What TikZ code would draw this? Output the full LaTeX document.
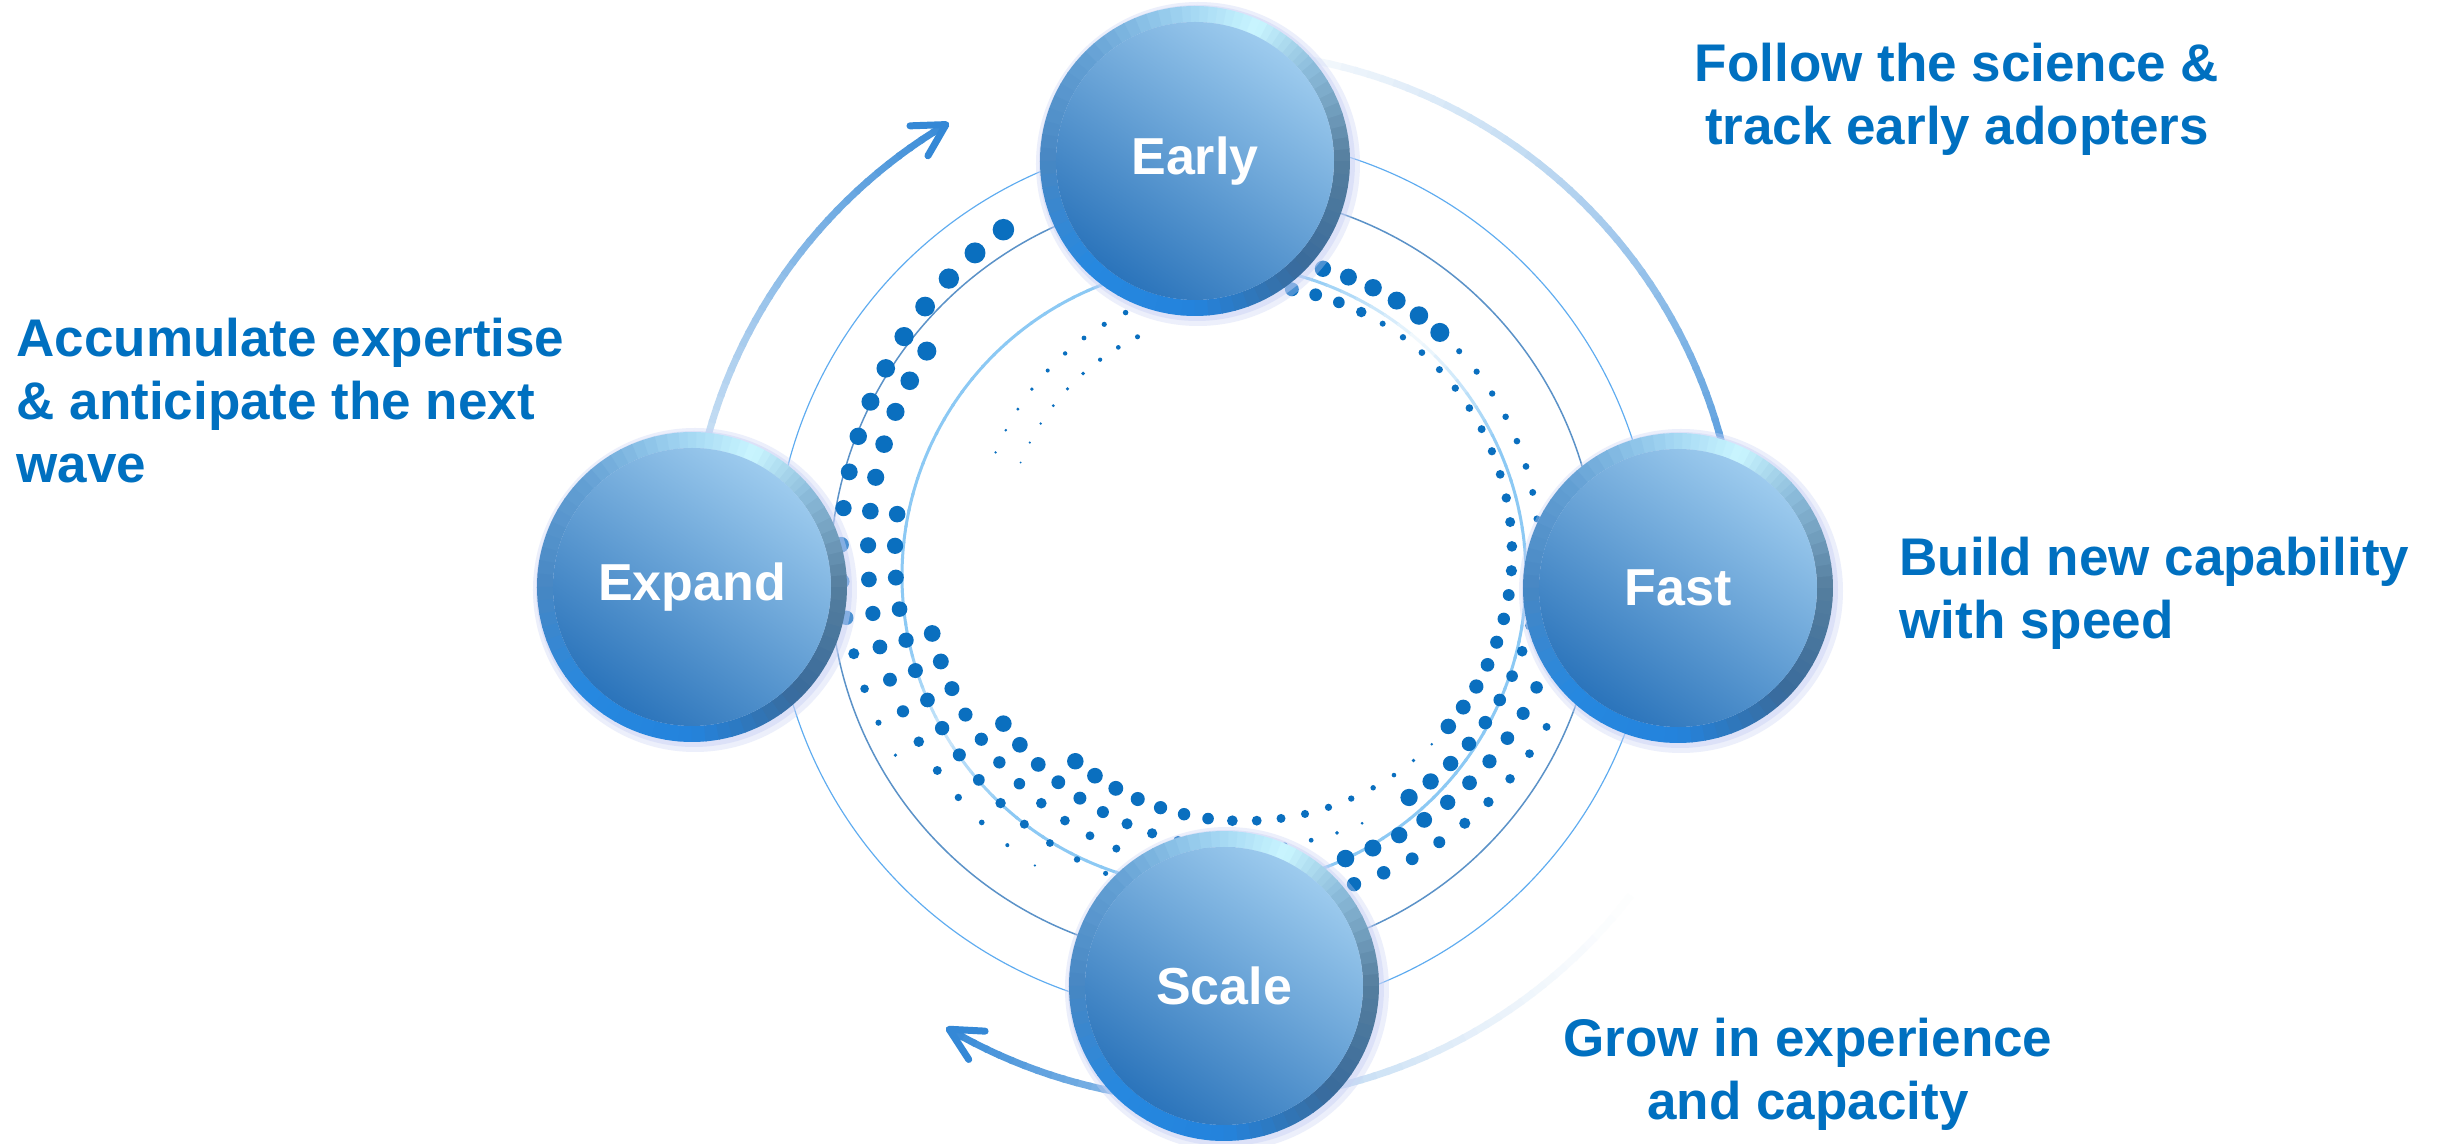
\documentclass[tikz,border=0pt]{standalone}
\usepackage{fontspec}
\setmainfont{Liberation Sans}
\definecolor{textblue}{HTML}{0070C0}
\definecolor{dotc}{HTML}{0A6FBF}
\definecolor{ringlight}{HTML}{8CC9F4}
\definecolor{ringdark}{HTML}{5B92C8}
\definecolor{ringthin}{HTML}{5EACF0}
\definecolor{arcblue}{HTML}{3488D6}
\definecolor{halo}{HTML}{C9D2F6}
\definecolor{rimSE}{HTML}{3A6B9B}
\definecolor{rimE}{HTML}{557E9E}
\definecolor{rimENE}{HTML}{8EBEDD}
\definecolor{rimHi}{HTML}{CAF6FF}
\definecolor{rimN}{HTML}{9FD3F1}
\definecolor{rimNW}{HTML}{64A0D4}
\definecolor{rimW}{HTML}{4787C3}
\definecolor{rimSW}{HTML}{2688E0}
\definecolor{rimS}{HTML}{2483DC}
\definecolor{diskhi}{HTML}{9DCBEE}
\definecolor{disklo}{HTML}{2B74BB}
\tikzset{
  bubblelabel/.style={circle, minimum size=93pt, inner sep=0pt, text=white,
    font=\fontsize{15.6}{18}\selectfont\bfseries},
  sidetext/.style={text=textblue, inner sep=0pt,
    font=\fontsize{15.9}{18.9}\selectfont\bfseries},
  bigarc/.style={line width=2.1pt},
  chevron/.style={arcblue, line width=2.1pt, line cap=round, line join=round}
}
% bubble: name, position, label
\newcommand\bubble[3]{%
  \begin{scope}[shift={#2}]
    \fill[halo, opacity=.35] (3,-3) circle[radius=162];
    \fill[halo, opacity=.45] (2,-2) circle[radius=158];
    \foreach \aA/\aB/\cA/\cB in {-45/0/rimSE/rimE, 0/40/rimE/rimENE, 40/65/rimENE/rimHi,
        65/95/rimHi/rimN, 95/135/rimN/rimNW, 135/180/rimNW/rimW, 180/225/rimW/rimSW,
        225/270/rimSW/rimS, 270/315/rimS/rimSE}{
      \foreach \s in {0,...,8}{
        \pgfmathsetmacro\ang{(\aA)+((\aB)-(\aA))*\s/9}
        \pgfmathsetmacro\angb{(\aA)+((\aB)-(\aA))*(\s+1)/9+0.4}
        \pgfmathtruncatemacro\pp{100*(\s+0.5)/9}
        \fill[\cB!\pp!\cA] (\ang:155) arc[start angle=\ang, end angle=\angb, radius=155]
          -- (\angb:139) arc[start angle=\angb, end angle=\ang, radius=139] -- cycle;
      }
    }
    \shade[top color=diskhi, bottom color=disklo, shading angle=-35] (0,0) circle[radius=139];
  \end{scope}
  \node[bubblelabel] (#1) at #2 {#3};
}
\begin{document}
\begin{tikzpicture}[x=0.3pt,y=0.3pt]
\useasboundingbox (-1214,-568) rectangle (1231,576);
\fill[white] (-1214,-568) rectangle (1231,576);
\coordinate (hub) at (0,0);
%rings
\foreach \a in {0,3,...,357}{
  \pgfmathtruncatemacro\pp{100-90*max(0,1-abs(\a-310)/25)-55*max(0,1-abs(\a-148)/18)}
  \draw[ringlight!\pp!white, line width=0.9pt] (-\a:312) arc[start angle=-\a, end angle=-\a-3.4, radius=312];
}
\draw[ringdark, line width=0.45pt] (hub) circle[radius=384];
\draw[ringthin, line width=0.35pt] (hub) circle[radius=440];
%dots
\begin{scope}[shift={(30,23)}]
\foreach \k/\aA/\aB/\dA/\dB in {-1/200/248/1.5/4.5,
    0/-20/0/7/9, 0/0/41/9/13, 0/43/100/2/10, 0/100/131/10/14, 0/200/250/2/5,
    0/278/300/12/8, 0/300/340/5/7,
    1/-47/0/5/6, 1/0/60/6/15, 1/63/146/2/14, 1/278/313/13/16,
    2/20/76/10/15, 2/80/166/2/14,
    3/25/72/6/12, 3/112/150/4/12, 3/150/191/12/14,
    4/120/162/1/12, 4/162/214/12/16,
    5/146/170/1.5/11, 5/170/234/12/18}{
  \pgfmathtruncatemacro\mA{ceil(((\aA)-3.8)/5.217)}
  \pgfmathtruncatemacro\mB{floor(((\aB)-3.8)/5.217)}
  \pgfmathsetmacro\rr{268+27*(\k)}
  \ifnum\mA>\mB\else
  \foreach \m in {\mA,...,\mB}{
    \pgfmathsetmacro\ph{3.8+5.217*(\m)}
    \pgfmathsetmacro\tang{0-(\ph)}
    \pgfmathsetmacro\dd{1.2*(\dA+(\dB-\dA)*((\ph)-(\aA))/((\aB)-(\aA)))}
    \fill[dotc] (\tang:\rr) circle[radius=\dd/2];
  }
  \fi
}
\end{scope}
%arcs
\foreach \a in {167,168.5,...,237.5}{
  \pgfmathtruncatemacro\pp{100*((\a-150)/89)^1.8}
  \draw[bigarc, arcblue!\pp!white] (-\a:525) arc[start angle=-\a, end angle=-\a-1.8, radius=525];
}
\foreach \a in {272,273.5,...,351.5}{
  \pgfmathtruncatemacro\pp{80*((\a-270)/75)^1.3}
  \draw[bigarc, arcblue!\pp!white] (-\a:525) arc[start angle=-\a, end angle=-\a-1.8, radius=525];
}
\foreach \a in {31.5,33,...,118.5}{
  \pgfmathtruncatemacro\pp{100*((\a-30)/90)^1.8}
  \draw[bigarc, arcblue!\pp!white] (-\a:525) arc[start angle=-\a, end angle=-\a-1.8, radius=525];
}
\coordinate (tipA) at (-239.3:525);
\coordinate (tipC) at (-120.3:525);
\draw[chevron] (tipA) ++(182:36) -- (tipA) -- ++(240:36);
\draw[chevron] (tipC) ++(-3:36) -- (tipC) -- ++(-57:36);
%bubbles
\bubble{early}{(-19,415)}{Early}
\bubble{fast}{(464,-12)}{Fast}
\bubble{scale}{(10,-410)}{Scale}
\bubble{expand}{(-522,-11)}{Expand}
%labels
\node[sidetext, align=center, anchor=north] (followtxt) at (743,534) {Follow the science \&\\track early adopters};
\node[sidetext, align=left, anchor=north west] (buildtxt) at (685,40) {Build new capability\\with speed};
\node[sidetext, align=center, anchor=north] (growtxt) at (594,-441) {Grow in experience\\and capacity};
\node[sidetext, align=left, anchor=north west] (accutxt) at (-1198,259) {Accumulate expertise\\\& anticipate the next\\wave};
\end{tikzpicture}
\end{document}
